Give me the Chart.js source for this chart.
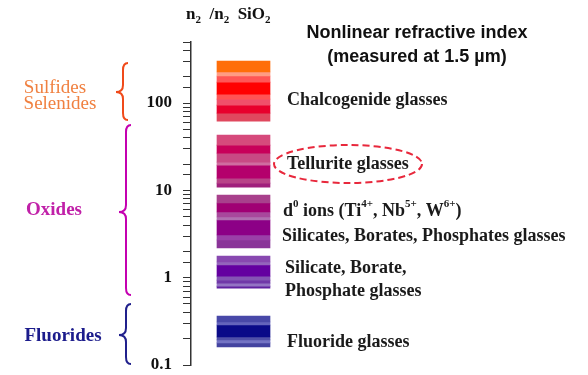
<!DOCTYPE html>
<html>
<head>
<meta charset="utf-8">
<script src="https://cdn.jsdelivr.net/npm/chart.js@4.4.1/dist/chart.umd.min.js"></script>
<style>
  body { margin: 0; background: #fff; }
  canvas { display: block; }
</style>
</head>
<body>
<canvas id="chart" width="588" height="375"></canvas>
<script>
// glass families, top to bottom, and the n2/n2(SiO2) range each one covers
const families = ['Chalcogenide glasses', 'Tellurite glasses', 'd0 ions / Silicates, Borates, Phosphates glasses',
                  'Silicate, Borate, Phosphate glasses', 'Fluoride glasses'];
const rangeHigh = [303, 43, 8.85, 1.77, 0.364];
const rangeLow = [62, 10.9, 2.19, 0.76, 0.161];
const tickLabels = [0.1, 1, 10, 100];

// stripe look of each block: [relative height, colour] from top to bottom
const stripes = [
    [[11, '#FF6E0A'], [4, '#FF9C84'], [6, '#FF5656'], [12, '#FF0000'], [5, '#FF5454'], [6, '#F0506A'], [8, '#E8002C'], [8, '#E0485E']],
    [[10, '#D64A7C'], [8, '#C8005A'], [9, '#C84A84'], [3, '#D06CA0'], [13, '#B4006C'], [5, '#B84488'], [4, '#A0207C']],
    [[8, '#A8408C'], [9, '#A00074'], [5, '#A8489C'], [3, '#B070B0'], [15, '#8C0086'], [5, '#9A40A8'], [8, '#8A3498']],
    [[6, '#8848B0'], [3, '#9464BC'], [11, '#6400A0'], [4, '#8454B4'], [3, '#7038A8'], [3, '#9474C4'], [2, '#6020A0']],
    [[6, '#4848A8'], [3, '#6464BC'], [12, '#0A0A88'], [3, '#5050A8'], [3, '#7474C4'], [4, '#4444A0']]
];

const datasets = [];
families.forEach((name, i) => {
    const hi = rangeHigh[i], lo = rangeLow[i];
    const total = stripes[i].reduce((s, st) => s + st[0], 0);
    let acc = 0;
    for (const [h, color] of stripes[i]) {
        const top = hi * Math.pow(lo / hi, acc / total);
        acc += h;
        const bottom = hi * Math.pow(lo / hi, acc / total);
        datasets.push({
            label: name,
            data: [[bottom, top]],
            backgroundColor: color,
            borderWidth: 0,
            grouped: false,
            barThickness: 53
        });
    }
});

function drawRich(ctx, parts, x, y, size, family) {
    // parts: [text, 'sup' | 'sub' | undefined]
    for (const [t, kind] of parts) {
        const s = kind ? Math.round(size * 0.62) : size;
        ctx.font = 'bold ' + s + 'px ' + family;
        const dy = kind === 'sup' ? -size * 0.38 : kind === 'sub' ? size * 0.28 : 0;
        ctx.fillText(t, x, y + dy);
        x += ctx.measureText(t).width;
    }
}

function brace(ctx, xs, y1, ym, y2, color) {
    const r = 7, w = 5;
    ctx.save();
    ctx.strokeStyle = color;
    ctx.lineWidth = 2;
    ctx.beginPath();
    ctx.moveTo(xs + w, y1);
    ctx.quadraticCurveTo(xs, y1, xs, y1 + r);
    ctx.lineTo(xs, ym - r);
    ctx.quadraticCurveTo(xs, ym, xs - w - 2, ym);
    ctx.quadraticCurveTo(xs, ym, xs, ym + r);
    ctx.lineTo(xs, y2 - r);
    ctx.quadraticCurveTo(xs, y2, xs + w, y2);
    ctx.stroke();
    ctx.restore();
}

const notes = {
    id: 'notes',
    afterDraw(chart) {
        const ctx = chart.ctx;
        const serif = '"Liberation Serif", "Times New Roman", serif';
        ctx.save();
        ctx.textBaseline = 'middle';
        ctx.textAlign = 'left';

        // axis header
        ctx.fillStyle = '#111';
        drawRich(ctx, [['n'], ['2', 'sub'], ['  /n'], ['2', 'sub'], ['  SiO'], ['2', 'sub']], 186, 15, 17, serif);

        // title
        ctx.textAlign = 'center';
        ctx.font = 'bold 18px "Liberation Sans", Arial, sans-serif';
        ctx.fillText('Nonlinear refractive index', 417, 33);
        ctx.fillText('(measured at 1.5 \u00b5m)', 417, 57);

        // right labels
        ctx.textAlign = 'left';
        ctx.fillStyle = '#1a1a1a';
        ctx.font = 'bold 18px ' + serif;
        ctx.fillText('Chalcogenide glasses', 287, 100);
        ctx.fillText('Tellurite glasses', 287, 164);
        drawRich(ctx, [['d'], ['0', 'sup'], [' ions (Ti'], ['4+', 'sup'], [', Nb'], ['5+', 'sup'], [', W'], ['6+', 'sup'], [')']], 283, 211, 18, serif);
        ctx.font = 'bold 18px ' + serif;
        ctx.fillText('Silicates, Borates, Phosphates glasses', 282, 236);
        ctx.fillText('Silicate, Borate,', 285, 268);
        ctx.fillText('Phosphate glasses', 285, 291);
        ctx.fillText('Fluoride glasses', 287, 342);

        // dashed ellipse round the tellurite label
        ctx.strokeStyle = '#E8283C';
        ctx.lineWidth = 2;
        ctx.setLineDash([7, 4]);
        ctx.beginPath();
        ctx.ellipse(348, 164, 74, 19, 0, 0, Math.PI * 2);
        ctx.stroke();
        ctx.setLineDash([]);

        // left family labels and braces
        ctx.textAlign = 'center';
        ctx.fillStyle = '#F08040';
        ctx.font = '19px ' + serif;
        ctx.fillText('Sulfides', 55, 88);
        ctx.fillText('Selenides', 60, 104);
        ctx.fillStyle = '#C020A8';
        ctx.font = 'bold 19px ' + serif;
        ctx.fillText('Oxides', 54, 210);
        ctx.fillStyle = '#1C1C8C';
        ctx.fillText('Fluorides', 63, 336);

        brace(ctx, 123, 63, 92, 120, '#F04A1A');
        brace(ctx, 126, 125, 212, 295, '#C400B0');
        brace(ctx, 126, 304, 335, 364, '#20208C');
        ctx.restore();
    }
};

new Chart(document.getElementById('chart'), {
    type: 'bar',
    data: { labels: ['n2'], datasets: datasets },
    options: {
        responsive: false,
        animation: false,
        layout: { padding: { left: 146, right: 292, top: 42, bottom: 10 } },
        plugins: { legend: { display: false }, tooltip: { enabled: false } },
        scales: {
            x: { display: false },
            y: {
                type: 'logarithmic',
                min: 0.1,
                max: 500,
                afterFit: (scale) => {
                    scale.width = 45;
                    scale.paddingTop = 0;
                    scale.paddingBottom = 0;
                },
                border: { display: true, color: '#333', width: 1.5 },
                grid: {
                    drawOnChartArea: false,
                    drawTicks: true,
                    tickLength: 8,
                    color: '#333',
                    lineWidth: 1
                },
                ticks: {
                    autoSkip: false,
                    padding: 11,
                    color: '#111',
                    font: { family: 'Liberation Serif', weight: 'bold', size: 17 },
                    callback: (v) => tickLabels.some(t => Math.abs(t - v) < 1e-9) ? String(v) : ''
                }
            }
        }
    },
    plugins: [notes]
});
</script>
</body>
</html>
